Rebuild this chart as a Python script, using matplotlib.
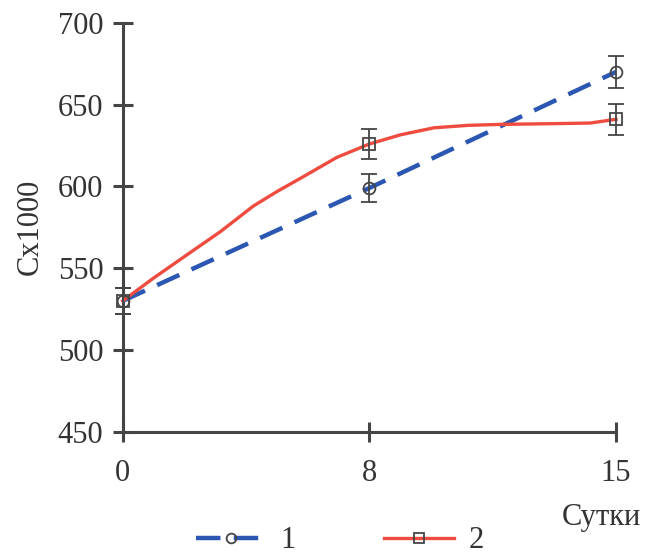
import numpy as np
import matplotlib
matplotlib.use('Agg')
from matplotlib import pyplot as plt
from matplotlib.lines import Line2D

plt.rcParams['font.family'] = ['Liberation Serif', 'DejaVu Serif']

# days shown as equally spaced categories
days = ['0', '8', '15']
pos = np.arange(len(days))

# series 1 (blue dashed, circles)
s1_vals = [530, 599, 670]
s1_err = [8, 8.5, 10]

# series 2 (red, squares)
s2_vals = [530, 626, 641]
s2_err = [8, 9, 9.5]
# red curve, x in category positions
s2_curve_x = [0.0, 0.124, 0.259, 0.395, 0.53, 0.624, 0.732, 0.868, 1.0,
              1.126, 1.262, 1.40, 1.538, 1.729, 1.895, 2.0]
s2_curve_y = [530, 543.8, 558.0, 572.2, 588.0, 596.7, 605.9, 617.7, 625.9,
              631.5, 635.8, 637.3, 637.9, 638.3, 638.7, 641]

blue = '#2b57b3'
red = '#ef4b3f'
grey = '#454545'
txt = '#333333'
fs = 22

fig = plt.figure(figsize=(6.46, 5.56), dpi=100)
ax = fig.add_axes([0.19, 0.2236, 0.7636, 0.7354])

ax.plot(pos, s1_vals, color=blue, lw=3.2, ls=(0, (5.5, 3)), clip_on=False, zorder=3)
ax.plot(s2_curve_x, s2_curve_y, color=red, lw=2.4, clip_on=False, zorder=3)

ax.errorbar(pos, s1_vals, yerr=s1_err, fmt='o', ms=8.5, mfc='none', mec=grey, mew=1.3,
            ecolor=grey, elinewidth=1.3, capsize=6, capthick=1.3, clip_on=False, zorder=4)
ax.errorbar(pos, s2_vals, yerr=s2_err, fmt='s', ms=8.5, mfc='none', mec=grey, mew=1.3,
            ecolor=grey, elinewidth=1.3, capsize=6, capthick=1.3, clip_on=False, zorder=4)

ax.set_xlim(0, 2)
ax.set_ylim(450, 700)
ax.set_xticks(pos)
ax.set_xticklabels(days)
ax.set_yticks(np.arange(450, 701, 50))

for s in ['top', 'right']:
    ax.spines[s].set_visible(False)
for s in ['left', 'bottom']:
    ax.spines[s].set_color(grey)
    ax.spines[s].set_linewidth(2.2)

ax.tick_params(axis='both', direction='inout', length=14, width=2.2, color=grey,
               labelsize=fs, labelcolor=txt)
ax.tick_params(axis='x', pad=13)
ax.tick_params(axis='y', pad=7)

ax.set_ylabel('Cx1000', fontsize=fs, color=txt, labelpad=9)
fig.text(0.993, 0.07, 'Сутки', fontsize=fs, color=txt, ha='right', va='center')

handles = [
    Line2D([], [], color=blue, lw=3.2, ls=(0, (5.5, 3)), marker='o', ms=7, mfc='none', mec=grey, mew=1.3),
    Line2D([], [], color=red, lw=2.4, marker='s', ms=7, mfc='none', mec=grey, mew=1.3),
]
fig.legend(handles, ['1', '2'], loc='center', bbox_to_anchor=(0.526, 0.027), ncol=2,
           frameon=False, fontsize=fs, handlelength=2.3, columnspacing=2.9, handletextpad=0.45,
           labelcolor=txt, borderpad=0.1)

fig.savefig('out.png', dpi=100)
